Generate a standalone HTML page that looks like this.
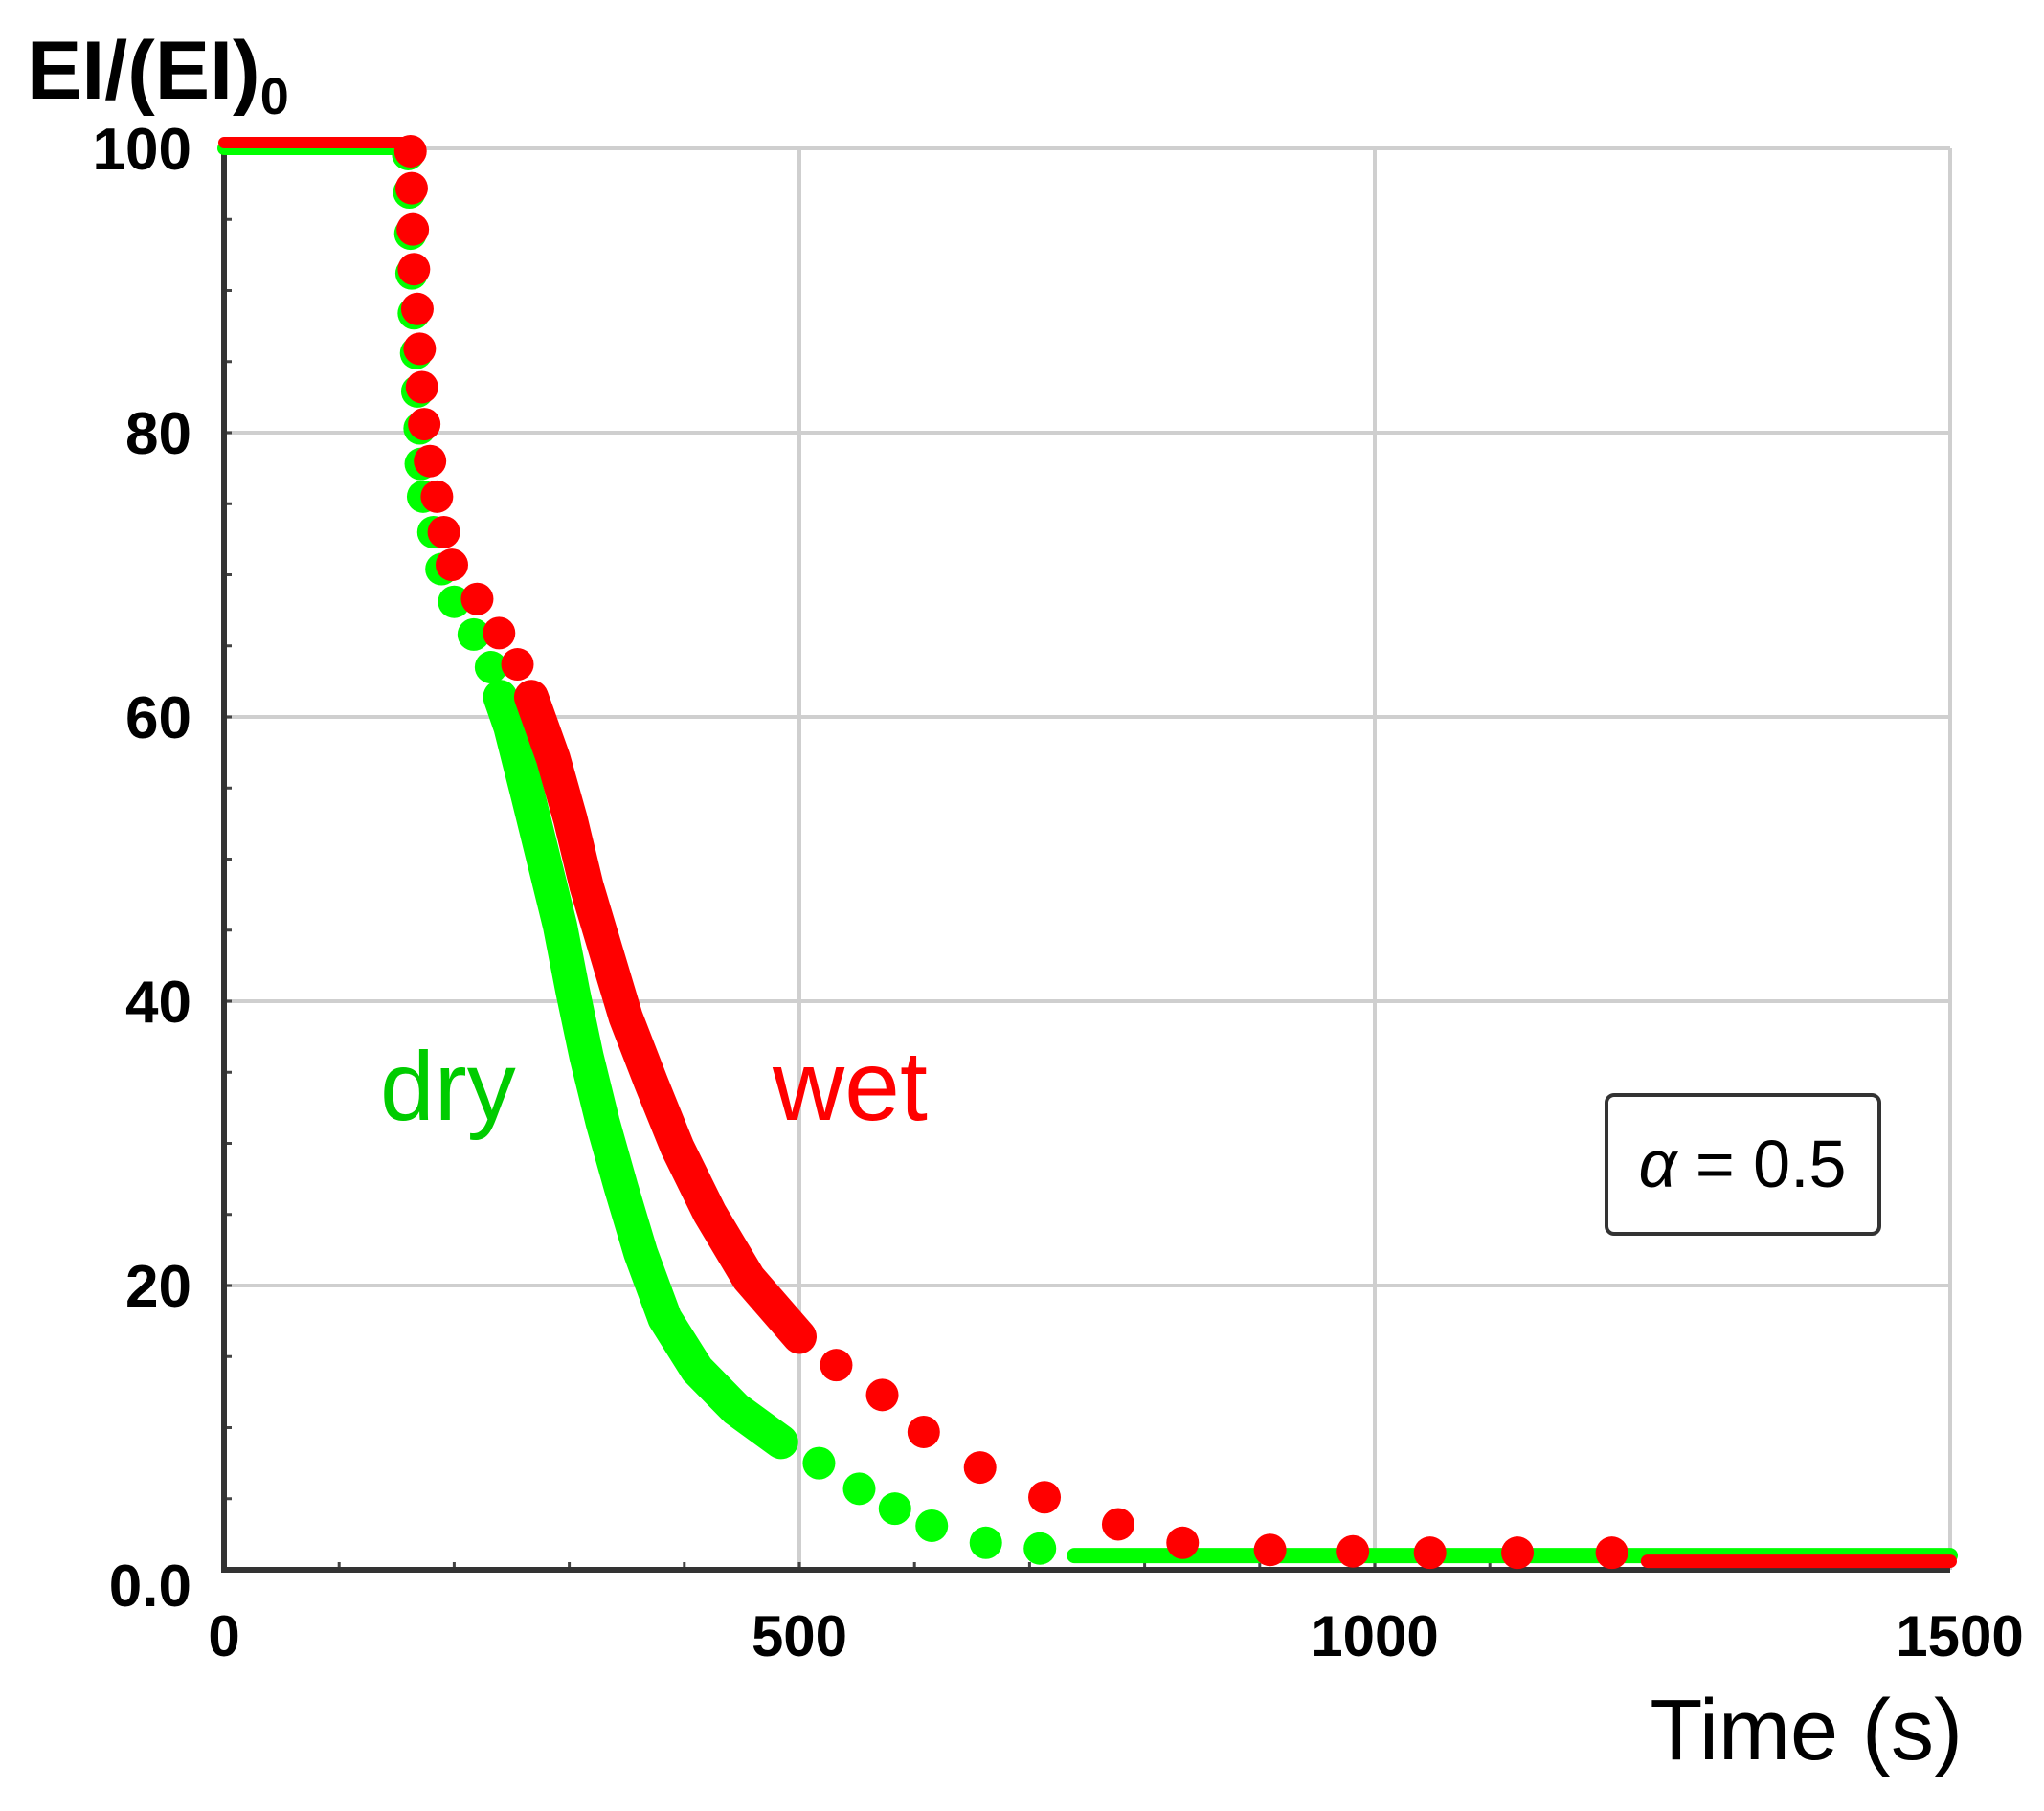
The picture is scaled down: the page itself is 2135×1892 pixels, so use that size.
<!DOCTYPE html>
<html><head><meta charset="utf-8"><style>
html,body{margin:0;padding:0;background:#fff;}
svg{display:block;}
</style></head><body>
<svg id="chart" width="2135" height="1892" viewBox="0 0 2135 1892" xmlns="http://www.w3.org/2000/svg">
<g id="grid"></g>
<g id="axes"></g>
<g id="series"></g>
<text x="28" y="103" font-family="Liberation Sans, sans-serif" font-weight="bold" font-size="86">EI/(EI)<tspan font-size="54" dy="16">0</tspan></text>
<text x="2050" y="1838" text-anchor="end" font-family="Liberation Sans, sans-serif" font-size="90">Time (s)</text>
<text x="397" y="1170" font-family="Liberation Sans, sans-serif" font-size="102" fill="#00cc00">dry</text>
<text x="807" y="1170" font-family="Liberation Sans, sans-serif" font-size="104" fill="#ff0000">wet</text>
<g>
<rect x="1678" y="1144" width="285" height="145" rx="8" fill="#fff" stroke="#333" stroke-width="4"/>
<text x="1820" y="1240" text-anchor="middle" font-family="Liberation Sans, sans-serif" font-size="70"><tspan font-style="italic">α</tspan> = 0.5</text>
</g>
</svg>
<script>
const xTicks=[0,500,1000,1500];
const yTicks=[0,20,40,60,80,100];
const yTickLabels=["0.0","20","40","60","80","100"];
const flatEndTime=162;
const wetT=[162,163,164,165,168,170,172,174,179,185,191,198,220,239,255,267,286,301,315,332,349,371,394,422,456,500];
const wetV=[99.8,97.2,94.3,91.5,88.7,85.9,83.2,80.6,78.0,75.5,73.0,70.7,68.3,65.9,63.7,61.4,57.1,52.8,48.1,43.5,38.9,34.3,29.7,25.1,20.5,16.4];
const wetSparseT=[532,572,608,657,713,777,833,909,981,1048,1124,1206];
const wetSparseV=[14.4,12.3,9.7,7.2,5.1,3.2,1.9,1.4,1.3,1.2,1.2,1.2];
const wetTailT=[1237,1500];
const wetTailV=[0.6,0.6];
const dryT=[160,161,162,163,165,167,168,170,171,173,182,189,200,217,232,240,249,264,278,292,303,315,329,345,362,383,411,445,484];
const dryV=[99.6,96.9,94.0,91.2,88.4,85.6,82.9,80.3,77.8,75.5,73.0,70.4,68.1,65.8,63.5,61.4,59.3,54.5,49.9,45.3,40.7,36.1,31.5,26.9,22.3,17.7,14.1,11.3,9.0];
const drySparseT=[517,552,583,615,662,709];
const drySparseV=[7.5,5.7,4.3,3.1,1.9,1.5];
const dryTailT=[739,1500];
const dryTailV=[1.0,1.0];

const X0=234,X1=2037,Y0=1640,Y1=155;
function sx(t){return X0+t*(X1-X0)/1500;}
function sy(v){return Y0-v*(Y0-Y1)/100;}
const NS="http://www.w3.org/2000/svg";
function mk(tag,parent){const e=document.createElementNS(NS,tag);parent.appendChild(e);return e;}
const grid=document.getElementById('grid'),axes=document.getElementById('axes'),series=document.getElementById('series');
yTicks.forEach((v,i)=>{
  if(v>0){const l=mk('line',grid);
  
  
  l.setAttribute('x1',X0);l.setAttribute('x2',X1);l.setAttribute('y1',sy(v));l.setAttribute('y2',sy(v));
  l.setAttribute('stroke','#cfcfcf');l.setAttribute('stroke-width','4');}
  const t=mk('text',axes);
  
  
  t.setAttribute('x',200);t.setAttribute('y',sy(v)+(v===0?38:22));t.setAttribute('text-anchor','end');
  t.setAttribute('font-family','Liberation Sans, sans-serif');t.setAttribute('font-weight','bold');t.setAttribute('font-size','62');
  t.textContent=yTickLabels[i];
});
xTicks.forEach(v=>{
  if(v>0){const l=mk('line',grid);
  
  
  l.setAttribute('x1',sx(v));l.setAttribute('x2',sx(v));l.setAttribute('y1',Y1);l.setAttribute('y2',Y0);
  l.setAttribute('stroke','#cfcfcf');l.setAttribute('stroke-width','4');}
  const t=mk('text',axes);
  
  
  t.setAttribute('x',sx(v)+(v===1500?10:0));t.setAttribute('y',1730);t.setAttribute('text-anchor','middle');
  t.setAttribute('font-family','Liberation Sans, sans-serif');t.setAttribute('font-weight','bold');t.setAttribute('font-size','60');
  t.textContent=v;
});
for(let v=5;v<100;v+=5){const l=mk('line',axes);
  
  
  l.setAttribute('x1',X0);l.setAttribute('x2',X0+8);l.setAttribute('y1',sy(v));l.setAttribute('y2',sy(v));l.setAttribute('stroke','#444');l.setAttribute('stroke-width','3');}
for(let v=100;v<1500;v+=100){const l=mk('line',axes);
  
  
  l.setAttribute('x1',sx(v));l.setAttribute('x2',sx(v));l.setAttribute('y1',Y0);l.setAttribute('y2',Y0-8);l.setAttribute('stroke','#444');l.setAttribute('stroke-width','3');}
const ya=mk('line',axes);


ya.setAttribute('x1',X0);ya.setAttribute('x2',X0);ya.setAttribute('y1',Y1);ya.setAttribute('y2',Y0+3);ya.setAttribute('stroke','#333');ya.setAttribute('stroke-width','6');
const xa=mk('line',axes);


xa.setAttribute('x1',X0-3);xa.setAttribute('x2',X1);xa.setAttribute('y1',Y0);xa.setAttribute('y2',Y0);xa.setAttribute('stroke','#333');xa.setAttribute('stroke-width','6');

function line(ts,vs,color,name,w){const p=mk('polyline',series);
  
  
  p.setAttribute('points',ts.map((t,i)=>sx(t)+','+sy(vs[i])).join(' '));
  p.setAttribute('fill','none');p.setAttribute('stroke',color);p.setAttribute('stroke-width',w);p.setAttribute('stroke-linecap','round');p.setAttribute('stroke-linejoin','round');}
function dots(ts,vs,color,name){ts.forEach((t,i)=>{const c=mk('circle',series);
  
  
  c.setAttribute('cx',sx(t));c.setAttribute('cy',sy(vs[i]));c.setAttribute('r',17);c.setAttribute('fill',color);});}
const G='#00ff00',R='#ff0000';
// dry
line([0,flatEndTime],[100,100],G,'dry-initial-line',14);
line(dryT.slice(15),dryV.slice(15),G,'dry-dense-band',36);
dots(dryT,dryV,G,'dry-point');
dots(drySparseT,drySparseV,G,'dry-point');
line(dryTailT,dryTailV,G,'dry-tail-line',16);
// wet
line([0,flatEndTime],[100.4,100.4],R,'wet-initial-line',12);
line(wetT.slice(15),wetV.slice(15),R,'wet-dense-band',36);
dots(wetT,wetV,R,'wet-point');
dots(wetSparseT,wetSparseV,R,'wet-point');
line(wetTailT,wetTailV,R,'wet-tail-line',14);
</script>
</body></html>
